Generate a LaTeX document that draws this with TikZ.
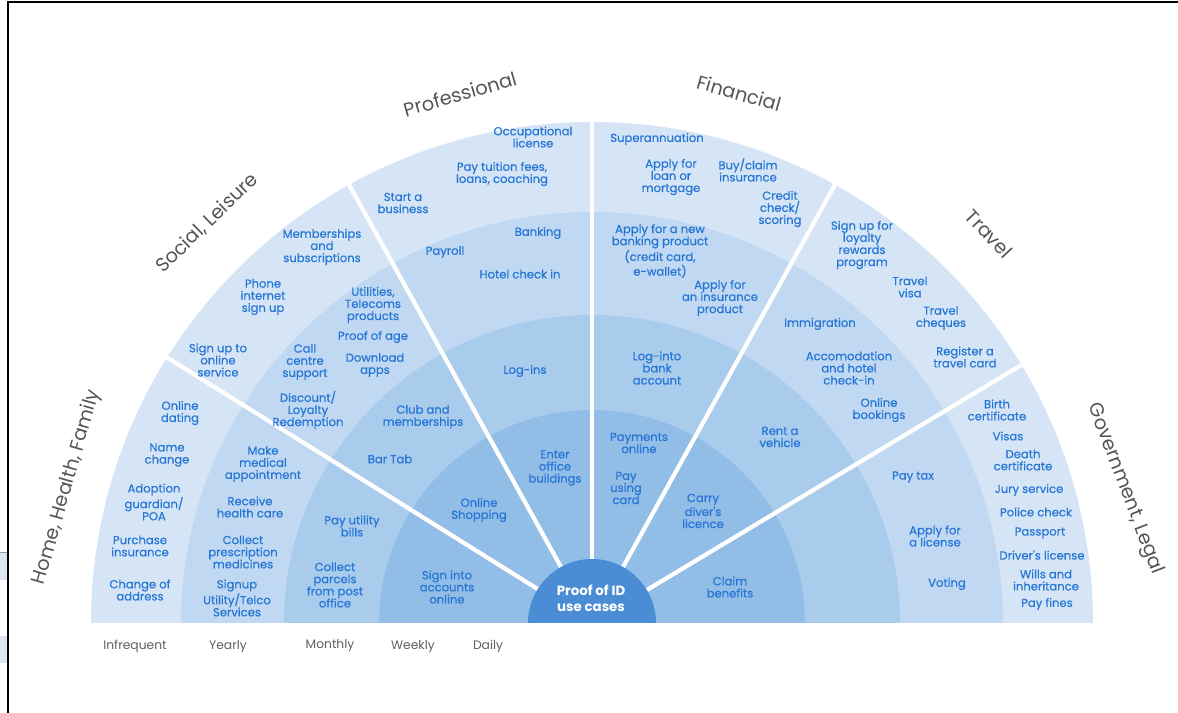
\documentclass[tikz,border=0pt]{standalone}
\usepackage{fontspec}
\setmainfont{Poppins}
\newfontfamily\itemfont{Poppins}[FakeBold=0.5]
\definecolor{ringinfreq}{RGB}{214,229,245}
\definecolor{ringyear}{RGB}{192,216,241}
\definecolor{ringmonth}{RGB}{169,203,236}
\definecolor{ringweek}{RGB}{146,189,231}
\definecolor{corefill}{RGB}{74,141,212}
\definecolor{itemblue}{RGB}{38,118,214}
\definecolor{catgray}{RGB}{85,85,85}
\definecolor{freqgray}{RGB}{95,95,95}
\definecolor{edgepale}{RGB}{221,229,240}

\begin{document}
\begin{tikzpicture}[
  x=0.02cm, y=0.02cm,
  item/.style={
    text=itemblue, align=center, inner sep=0pt,
    font=\itemfont\fontsize{6.6}{6.9}\selectfont
  },
  cat/.style={text=catgray, inner sep=0pt, font=\fontsize{11}{13}\selectfont},
  freq/.style={text=freqgray, inner sep=0pt, font=\fontsize{7}{8}\selectfont},
  divider/.style={white, line width=2.4pt},
  coretext/.style={text=white, align=center, inner sep=0pt,
    font=\fontsize{7.6}{9}\selectfont\bfseries}
]
\useasboundingbox (0,0) rectangle (1178,713);

% =====================================================================
% Frame
% =====================================================================
\draw[black, line width=1.3pt] (8,0) -- (8,711) -- (1178,711);
\fill[edgepale] (0,133) rectangle (7,160);
\fill[edgepale] (0,50) rectangle (7,77);
\draw[black!40, line width=0.5pt] (0,161) -- (7,161);

% =====================================================================
% Frequency rings and sectors
% =====================================================================
\begin{scope}[shift={(592,90)}]
  \fill[ringinfreq] (-501,0) arc[start angle=180, end angle=0, radius=501] -- cycle;
  \fill[ringyear] (-411,0) arc[start angle=180, end angle=0, radius=411] -- cycle;
  \fill[ringmonth] (-308,0) arc[start angle=180, end angle=0, radius=308] -- cycle;
  \fill[ringweek] (-213,0) arc[start angle=180, end angle=0, radius=213] -- cycle;
  \foreach \a in {31,61,90,119,148}
    \draw[divider] (0,0) -- (\a:501);
  \fill[corefill] (-64,0) arc[start angle=180, end angle=0, radius=64] -- cycle;
\end{scope}
\node[coretext] (Core) at (591,115) {Proof of ID\\use cases};

% =====================================================================
% Category labels
% =====================================================================
\node[cat, rotate=74] (HomeCat) at (67,226) {Home, Health, Family};
\node[cat, rotate=44] (SocialCat) at (207,490) {Social, Leisure};
\node[cat, rotate=16] (ProCat) at (460,619) {Professional};
\node[cat, rotate=-16] (FinCat) at (739,620) {Financial};
\node[cat, rotate=-47] (TravelCat) at (989,479) {Travel};
\node[cat, rotate=-69] (GovCat) at (1125,224) {Government, Legal};

% =====================================================================
% Frequency labels
% =====================================================================
\node[freq] (Infrequent) at (135,67) {Infrequent};
\node[freq] (Yearly) at (228,66) {Yearly};
\node[freq] (Monthly) at (330,67) {Monthly};
\node[freq] (Weekly) at (413,66) {Weekly};
\node[freq] (Daily) at (488,67) {Daily};

% =====================================================================
% Home, Health, Family
% =====================================================================
\node[item] (OnlineDating) at (180,300) {Online\\dating};
\node[item] (NameChange) at (167,258) {Name\\change};
\node[item] (Adoption) at (154,211) {Adoption\\guardian/\\POA};
\node[item] (PurchaseIns) at (140,167) {Purchase\\insurance};
\node[item] (ChangeAddress) at (140,123) {Change of\\address};
\node[item] (MedicalAppt) at (263,249) {Make\\medical\\appointment};
\node[item] (HealthCare) at (250,206) {Receive\\health care};
\node[item] (Prescription) at (243,161) {Collect\\prescription\\medicines};
\node[item] (SignupUtility) at (237,115) {Signup\\Utility/Telco\\Services};
\node[item] (PayUtility) at (352,187) {Pay utility\\bills};
\node[item] (Parcels) at (335,128) {Collect\\parcels\\from post\\office};
\node[item] (SignIntoAccounts) at (447,126) {Sign into\\accounts\\online};

% =====================================================================
% Social, Leisure
% =====================================================================
\node[item] (SignUpOnline) at (218,353) {Sign up to\\online\\service};
\node[item] (PhoneInternet) at (263,416) {Phone\\internet\\sign up};
\node[item] (Memberships) at (322,466) {Memberships\\and\\subscriptions};
\node[item] (Discount) at (308,303) {Discount/\\Loyalty\\Redemption};
\node[item] (CallCentre) at (305,351) {Call\\centre\\support};
\node[item] (Download) at (375,348) {Download\\apps};
\node[item] (ProofAge) at (373,376) {Proof of age};
\node[item] (Utilities) at (373,408) {Utilities,\\Telecoms\\products};
\node[item] (ClubMemberships) at (423,296) {Club and\\memberships};
\node[item] (BarTab) at (390,254) {Bar Tab};
\node[item] (OnlineShopping) at (479,203) {Online\\Shopping};

% =====================================================================
% Professional
% =====================================================================
\node[item] (Occupational) at (533,576) {Occupational\\license};
\node[item] (Tuition) at (502,539) {Pay tuition fees,\\loans, coaching};
\node[item] (StartBusiness) at (403,510) {Start a\\business};
\node[item] (Banking) at (538,480) {Banking};
\node[item] (Payroll) at (445,461) {Payroll};
\node[item] (HotelCheckIn) at (520,439) {Hotel check in};
\node[item] (LogIns) at (525,342) {Log-ins};
\node[item] (OfficeBuildings) at (555,245) {Enter\\office\\buildings};

% =====================================================================
% Financial
% =====================================================================
\node[item] (Superannuation) at (657,574) {Superannuation};
\node[item] (LoanMortgage) at (671,536) {Apply for\\loan or\\mortgage};
\node[item] (BuyClaim) at (748,543) {Buy/claim\\insurance};
\node[item] (CreditCheck) at (780,504) {Credit\\check/\\scoring};
\node[item] (NewBankingProduct) at (660,462)
  {Apply for a new\\banking product\\(credit card,\\e-wallet)};
\node[item] (InsuranceProduct) at (720,415) {Apply for\\an insurance\\product};
\node[item] (LogIntoBank) at (657,345) {Log-into\\bank\\account};
\node[item] (PaymentsOnline) at (639,270) {Payments\\online};
\node[item] (PayCard) at (626,225) {Pay\\using\\card};

% =====================================================================
% Travel
% =====================================================================
\node[item] (LoyaltyProgram) at (862,468) {Sign up for\\loyalty\\rewards\\program};
\node[item] (TravelVisa) at (910,426) {Travel\\visa};
\node[item] (TravelCheques) at (941,395) {Travel\\cheques};
\node[item] (TravelCard) at (965,356) {Register a\\travel card};
\node[item] (Immigration) at (820,389) {Immigration};
\node[item] (Accomodation) at (849,345) {Accomodation\\and hotel\\check-in};
\node[item] (OnlineBookings) at (879,303) {Online\\bookings};
\node[item] (RentVehicle) at (780,276) {Rent a\\vehicle};
\node[item] (CarryLicence) at (703,202) {Carry\\diver's\\licence};

% =====================================================================
% Government, Legal
% =====================================================================
\node[item] (BirthCert) at (997,303) {Birth\\certificate};
\node[item] (Visas) at (1008,277) {Visas};
\node[item] (DeathCert) at (1023,253) {Death\\certificate};
\node[item] (JuryService) at (1029,223) {Jury service};
\node[item] (PoliceCheck) at (1036,201) {Police check};
\node[item] (Passport) at (1040,180) {Passport};
\node[item] (DriversLicense) at (1042,158) {Driver's license};
\node[item] (Wills) at (1046,133) {Wills and\\inheritance};
\node[item] (PayFines) at (1047,109) {Pay fines};
\node[item] (PayTax) at (913,236) {Pay tax};
\node[item] (ApplyLicense) at (935,177) {Apply for\\a license};
\node[item] (Voting) at (947,129) {Voting};
\node[item] (ClaimBenefits) at (730,126) {Claim\\benefits};

\end{tikzpicture}
\end{document}
